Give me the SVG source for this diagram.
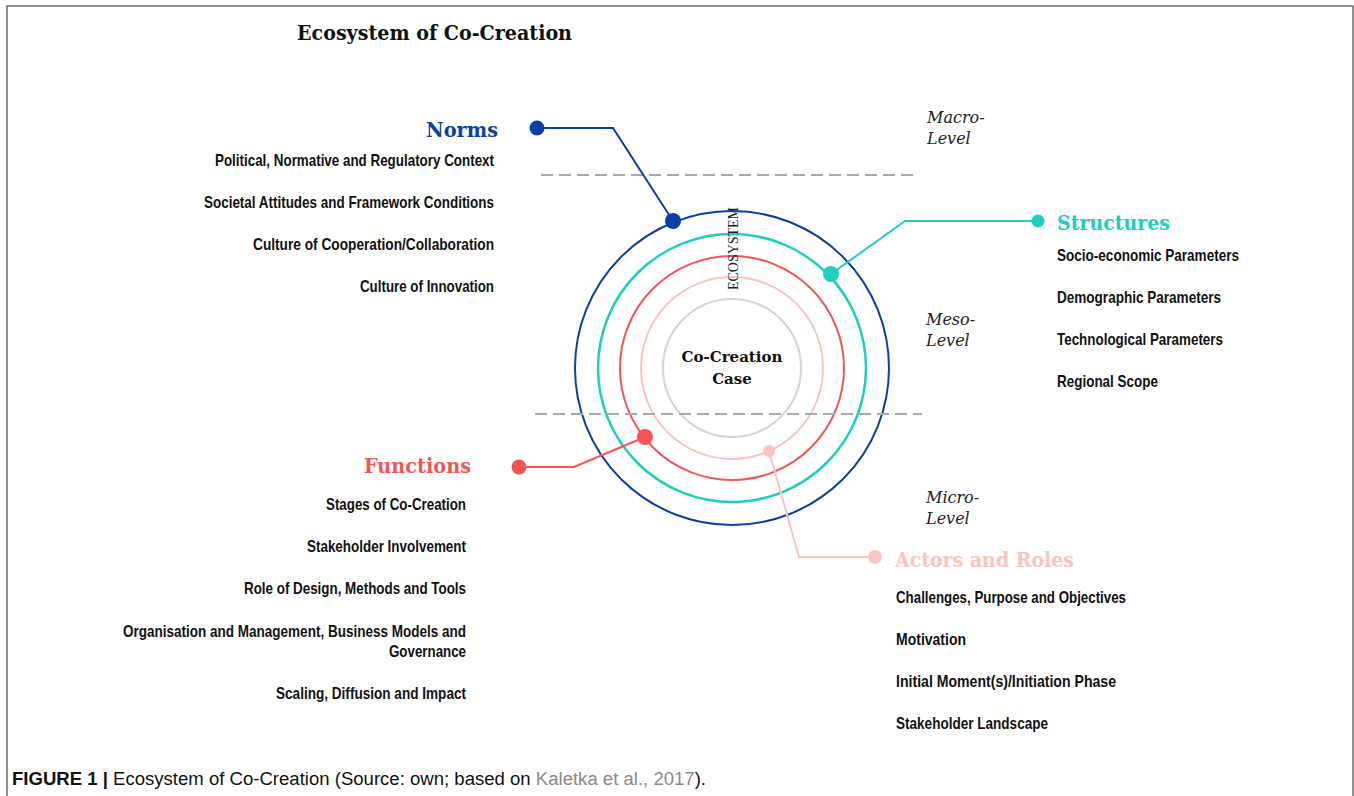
<svg xmlns="http://www.w3.org/2000/svg" width="1354" height="796" viewBox="0 0 1354 796">
<style>
.frame{fill:none;stroke:#6b6b6b;stroke-width:1.5}
.ring{fill:none}
.dash{stroke:#a9a9a9;stroke-width:2;stroke-dasharray:12 6;fill:none}
.head{font-family:"DejaVu Serif","Liberation Serif",serif;font-weight:bold;font-size:21px}
.item{font-family:"Liberation Sans",Arial,sans-serif;font-weight:bold;font-size:16.5px;fill:#111}
.lvl{font-family:"DejaVu Serif","Liberation Serif",serif;font-style:italic;font-size:16px;fill:#222}
.conn{fill:none;stroke-width:2}
.blue{stroke:#0b3fa6}.teal{stroke:#1dcfbd}.red{stroke:#f65454}.pink{stroke:#fcc3c3}.gray{stroke:#d3d3d3}
</style>
<rect x="0" y="0" width="1354" height="796" fill="#fff"/>
<path class="frame" d="M7 796 V6 H1353 V796"/>
<text x="297" y="40" font-family="DejaVu Serif, Liberation Serif, serif" font-weight="bold" font-size="21" fill="#111" textLength="275" lengthAdjust="spacingAndGlyphs">Ecosystem of Co-Creation</text>

<g id="rings">
<circle class="ring blue" cx="732" cy="368" r="157" stroke-width="2"/>
<circle class="ring teal" cx="732" cy="368" r="134" stroke-width="2.5"/>
<circle class="ring red" cx="732" cy="368" r="112" stroke-width="2"/>
<circle class="ring pink" cx="732" cy="368" r="91" stroke-width="2"/>
<circle class="ring gray" cx="732" cy="368" r="69" stroke-width="2"/>
</g>
<text transform="translate(738,290) rotate(-90)" font-family="Liberation Serif, serif" font-size="15" fill="#222" textLength="83" lengthAdjust="spacingAndGlyphs">ECOSYSTEM</text>
<g id="center" font-family="DejaVu Serif, Liberation Serif, serif" font-weight="bold" font-size="15" fill="#111" text-anchor="middle">
<text x="732" y="362">Co-Creation</text>
<text x="732" y="384">Case</text>
</g>

<g id="levels">
<path class="dash" d="M541 175 H918"/>
<path class="dash" d="M535 414 H922"/>
<text class="lvl" x="927" y="123">Macro-</text>
<text class="lvl" x="927" y="144">Level</text>
<text class="lvl" x="926" y="325">Meso-</text>
<text class="lvl" x="926" y="346">Level</text>
<text class="lvl" x="926" y="503">Micro-</text>
<text class="lvl" x="926" y="524">Level</text>
</g>

<g id="connectors">
<path class="conn blue" d="M537 128 H613 L673 221"/>
<path class="conn teal" d="M831 274 L905 221 H1038"/>
<path class="conn red" d="M645 437 L574 467 H519"/>
<path class="conn pink" d="M769 451 L799 557 H875"/>
</g>

<g id="norms">
<circle cx="537" cy="128" r="7.5" fill="#0b3fa6"/>
<circle cx="673" cy="221" r="8" fill="#0b3fa6"/>
<text class="head" x="498" y="137" text-anchor="end" fill="#0b3fa6" textLength="72" lengthAdjust="spacingAndGlyphs">Norms</text>
<g class="item" text-anchor="end">
<text x="494" y="166" textLength="279" lengthAdjust="spacingAndGlyphs">Political, Normative and Regulatory Context</text>
<text x="494" y="208" textLength="290" lengthAdjust="spacingAndGlyphs">Societal Attitudes and Framework Conditions</text>
<text x="494" y="250" textLength="241" lengthAdjust="spacingAndGlyphs">Culture of Cooperation/Collaboration</text>
<text x="494" y="292" textLength="134" lengthAdjust="spacingAndGlyphs">Culture of Innovation</text>
</g>
</g>

<g id="structures">
<circle cx="831" cy="274" r="8" fill="#1dcfbd"/>
<circle cx="1038" cy="221" r="6.5" fill="#1dcfbd"/>
<text class="head" x="1057" y="230" fill="#1dcfbd" textLength="113" lengthAdjust="spacingAndGlyphs">Structures</text>
<g class="item">
<text x="1057" y="261" textLength="182" lengthAdjust="spacingAndGlyphs">Socio-economic Parameters</text>
<text x="1057" y="303" textLength="164" lengthAdjust="spacingAndGlyphs">Demographic Parameters</text>
<text x="1057" y="345" textLength="166" lengthAdjust="spacingAndGlyphs">Technological Parameters</text>
<text x="1057" y="387" textLength="101" lengthAdjust="spacingAndGlyphs">Regional Scope</text>
</g>
</g>

<g id="functions">
<circle cx="645" cy="437" r="8" fill="#f65454"/>
<circle cx="519" cy="467" r="7.5" fill="#f65454"/>
<text class="head" x="471" y="473" text-anchor="end" fill="#f65454" textLength="107" lengthAdjust="spacingAndGlyphs">Functions</text>
<g class="item" text-anchor="end">
<text x="466" y="510" textLength="140" lengthAdjust="spacingAndGlyphs">Stages of Co-Creation</text>
<text x="466" y="552" textLength="159" lengthAdjust="spacingAndGlyphs">Stakeholder Involvement</text>
<text x="466" y="594" textLength="222" lengthAdjust="spacingAndGlyphs">Role of Design, Methods and Tools</text>
<text x="466" y="637" textLength="343" lengthAdjust="spacingAndGlyphs">Organisation and Management, Business Models and</text>
<text x="466" y="657" textLength="77" lengthAdjust="spacingAndGlyphs">Governance</text>
<text x="466" y="699" textLength="190" lengthAdjust="spacingAndGlyphs">Scaling, Diffusion and Impact</text>
</g>
</g>

<g id="actors">
<circle cx="769" cy="451" r="6" fill="#fcc3c3"/>
<circle cx="875" cy="557" r="7" fill="#fcc3c3"/>
<text class="head" x="895" y="567" fill="#fcc3c3" textLength="179" lengthAdjust="spacingAndGlyphs">Actors and Roles</text>
<g class="item">
<text x="896" y="603" textLength="230" lengthAdjust="spacingAndGlyphs">Challenges, Purpose and Objectives</text>
<text x="896" y="645" textLength="70" lengthAdjust="spacingAndGlyphs">Motivation</text>
<text x="896" y="687" textLength="220" lengthAdjust="spacingAndGlyphs">Initial Moment(s)/Initiation Phase</text>
<text x="896" y="729" textLength="152" lengthAdjust="spacingAndGlyphs">Stakeholder Landscape</text>
</g>
</g>

<text x="12" y="785" font-family="Liberation Sans, Arial, sans-serif" font-size="18" fill="#111" textLength="694" lengthAdjust="spacingAndGlyphs"><tspan font-weight="bold">FIGURE 1 | </tspan>Ecosystem of Co-Creation (Source: own; based on <tspan fill="#8a8a8a">Kaletka et al., 2017</tspan>).</text>
</svg>
